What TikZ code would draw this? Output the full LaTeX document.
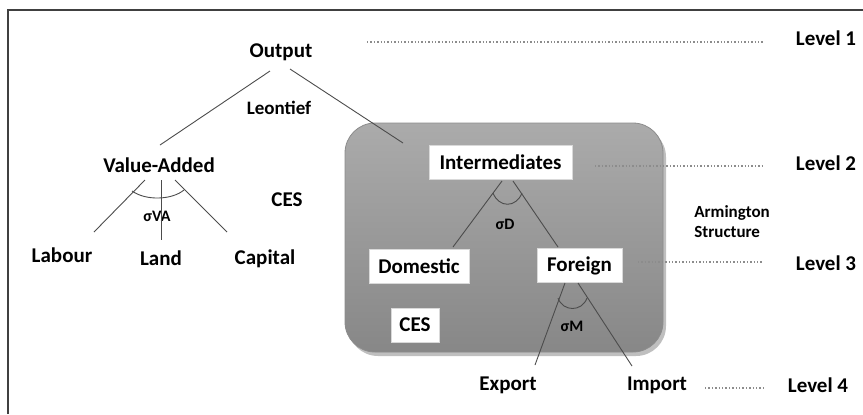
\documentclass[tikz,border=0pt]{standalone}
\usepackage{fontspec}
\setmainfont{Carlito}
\usetikzlibrary{positioning, calc}
\tikzset{%
	lbl/.style={font=\bfseries\fontsize{10.5}{12}\selectfont, inner sep=1pt},
	smalllbl/.style={font=\bfseries\fontsize{9.5}{11}\selectfont, inner sep=1pt},
	box/.style={lbl, fill=white, draw=black!15, inner sep=0mm, minimum height=17pt},
	sig/.style={font=\bfseries\fontsize{8}{9}\selectfont, inner sep=0pt},
	conn/.style={draw=black!70, line width=0.45pt},
	lvl/.style={draw=black!45, densely dotted, line width=0.7pt},
	panel/.style={rounded corners=15pt, top color=black!33, bottom color=black!47, draw=black!45}
}

\begin{document}
\begin{tikzpicture}[x=0.5pt, y=-0.5pt]
	\useasboundingbox (0,0) rectangle (863,414);
	\draw[black!75, line width=1pt] (7.5,414) -- (7.5,9.5) -- (863,9.5);

	% shaded panel
	\fill[black!25, rounded corners=15pt] (348,127) rectangle (666,356);
	\path[panel] (345,123) rectangle (663,352);

	\node[lbl]      (out)  at (281,52)  {Output};
	\node[smalllbl] (leon) at (279,108) {Leontief};
	\node[lbl]      (va)   at (159,165) {Value-Added};
	\node[lbl]      (ces1) at (287,200) {CES};
	\node[lbl]      (lab)  at (62,255)  {Labour};
	\node[lbl]      (land) at (161,258) {Land};
	\node[lbl]      (cap)  at (265,259) {Capital};
	\node[sig]      (sva)  at (157,216) {σVA};

	\node[box, minimum width=71.5pt] (inter) at (500.5,162)   {Intermediates};
	\node[box, minimum width=50pt]   (dom)   at (419,266)     {Domestic};
	\node[box, minimum width=42.5pt] (for)   at (579.5,265.5) {Foreign};
	\node[box, minimum width=24pt]   (ces2)  at (415,325)     {CES};
	\node[sig] (sd) at (505,224) {σD};
	\node[sig] (sm) at (572,326) {σM};

	\node[lbl] (exp) at (508,385) {Export};
	\node[lbl] (imp) at (657,385) {Import};
	\node[font=\bfseries\fontsize{8.5}{10}\selectfont, align=left, inner sep=0pt,
		anchor=west] (arm) at (694,222) {Armington\\Structure};

	\node[lbl] (lv1) at (826,38)  {Level 1};
	\node[lbl] (lv2) at (826,163) {Level 2};
	\node[lbl] (lv3) at (826,263) {Level 3};
	\node[lbl] (lv4) at (818,385) {Level 4};

	% tree
	\draw[conn] ([shift={(-11,19)}]out.center) -- ([shift={(1,-20)}]va.center);
	\draw[conn] ([shift={(9,17)}]out.center) -- ([shift={(-97.5,-19)}]inter.center);

	\draw[conn] ([shift={(-14,15)}]va.center) -- ([shift={(32,-23)}]lab.center);
	\draw[conn] ([shift={(2,15)}]va.center) -- ([shift={(0,-18)}]land.center);
	\draw[conn] ([shift={(16,15)}]va.center) -- ([shift={(-38,-27)}]cap.center);
	\draw[conn] ([shift={(-27,26)}]va.center) .. controls +(14,10) and +(-12,10)
		.. ([shift={(25,25)}]va.center);

	\draw[conn] ([shift={(1.5,19)}]inter.center) -- ([shift={(34,-19)}]dom.center);
	\draw[conn] ([shift={(12.5,19)}]inter.center) -- ([shift={(-21.5,-18.5)}]for.center);
	\draw[conn] ([shift={(-7.5,31)}]inter.center) .. controls +(6,15) and +(-6,15)
		.. ([shift={(21.5,31)}]inter.center);

	\draw[conn] ([shift={(-14.5,17.5)}]for.center) -- ([shift={(27,-20)}]exp.center);
	\draw[conn] ([shift={(-1.5,17.5)}]for.center) -- ([shift={(-25,-19)}]imp.center);
	\draw[conn] ([shift={(-21.5,32.5)}]for.center) .. controls +(5,14) and +(-5,14)
		.. ([shift={(7.5,32.5)}]for.center);

	% levels
	\draw[lvl] ([shift={(86,-10)}]out.center) -- ([shift={(-63,4)}]lv1.center);
	\draw[lvl] ([shift={(94.5,4)}]inter.center) -- ([shift={(-63,3)}]lv2.center);
	\draw[lvl] ([shift={(58.5,-3.5)}]for.center) -- ([shift={(-63,-1)}]lv3.center);
	\draw[lvl] ([shift={(48,3)}]imp.center) -- ([shift={(-54,3)}]lv4.center);
\end{tikzpicture}
\end{document}
